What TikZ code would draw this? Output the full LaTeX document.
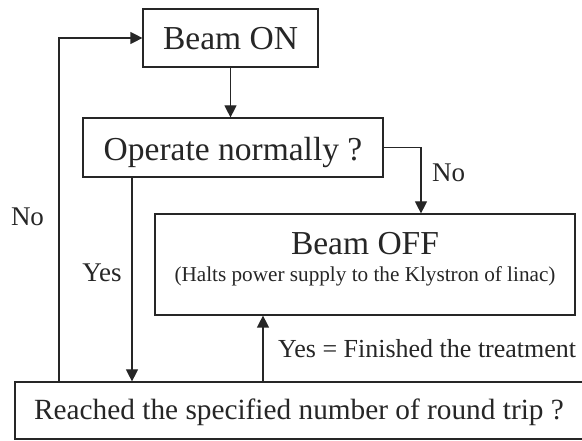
\documentclass[tikz,border=0pt]{standalone}
\usepackage{fontspec}
\setmainfont{Liberation Serif}
\usetikzlibrary{arrows.meta}
\begin{document}
\begin{tikzpicture}[x=1pt,y=-1pt,
 box/.style={draw=black!85, line width=1.2pt, rectangle, inner sep=0pt, text=black!85, text depth=0pt},
 conn/.style={draw=black!85, line width=1.2pt},
 arr/.style={conn, -{Triangle[length=12pt,width=12pt]}},
 lbl/.style={inner sep=0pt, text=black!85, font=\fontsize{27}{30}\selectfont}]
\useasboundingbox (0,0) rectangle (582,441);
\fill[white] (0,0) rectangle (582,441);
\node[box, minimum width=175pt, minimum height=58pt, text height=24pt, font=\fontsize{33.5}{36}\selectfont] (on) at (230.5,38) {Beam ON};
\node[box, minimum width=300pt, minimum height=59pt, text height=27pt, font=\fontsize{33.5}{36}\selectfont] (op) at (233,147.5) {Operate normally ?};
\node[box, minimum width=420pt, minimum height=101pt, text height=35pt, align=center, font=\fontsize{33.5}{27}\selectfont] (off) at (365,264.5) {Beam OFF\\{\fontsize{21.2}{27}\selectfont (Halts power supply to the Klystron of linac)}};
\node[box, minimum width=568pt, minimum height=57pt, text height=19pt, font=\fontsize{29.3}{32}\selectfont] (rt) at (299,410.5) {Reached the specified number of round trip ?};
\node[lbl, anchor=base] (nol) at (27.5,226) {No};
\node[lbl, anchor=base] (yesl) at (102,282) {Yes};
\node[lbl, anchor=base west] (nor) at (432,182) {No};
\node[lbl, anchor=base west, font=\fontsize{26}{30}\selectfont] (fin) at (278,357) {Yes = Finished the treatment};
\coordinate (lx) at (59,0);
\coordinate (nx) at (421,0);
\coordinate (yx) at (132,0);
\coordinate (ux) at (263,0);
\draw[arr] (rt.north -| lx) |- (on.west);
\draw[arr] (on.south) -- (on.south |- op.north);
\draw[arr] (op.east) -| (nx |- off.north);
\draw[arr] (op.south -| yx) -- (rt.north -| yx);
\draw[arr] (rt.north -| ux) -- (off.south -| ux);
\end{tikzpicture}
\end{document}
